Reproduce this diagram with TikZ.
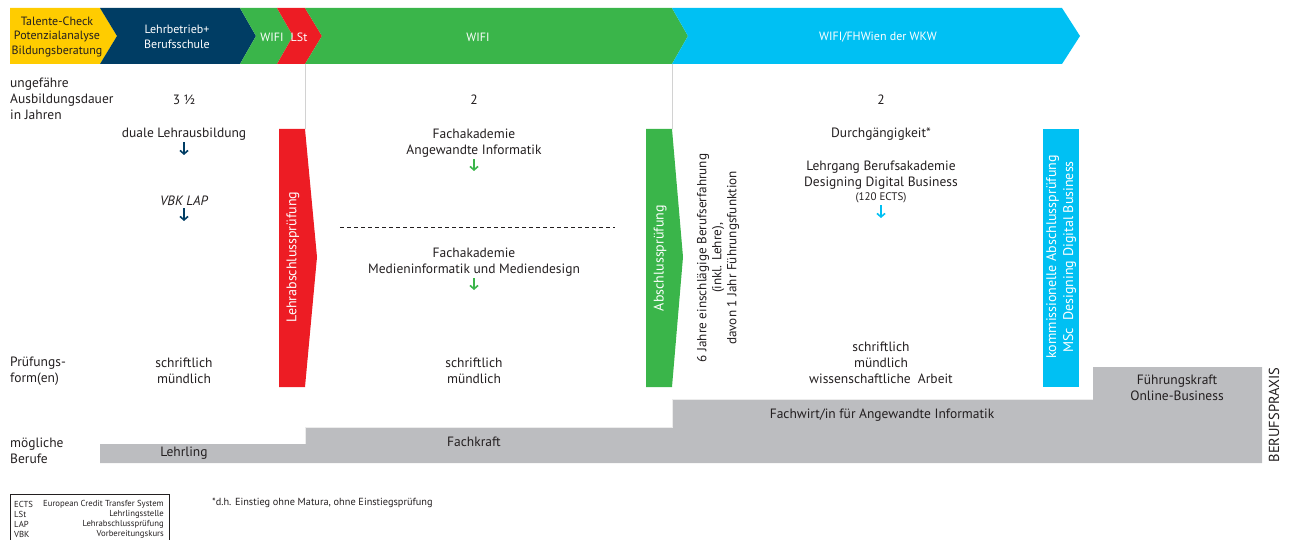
\documentclass[tikz,border=0pt]{standalone}
\usepackage{fontspec}
\setmainfont{PT Sans}
\usetikzlibrary{arrows.meta}
\definecolor{talgelb}{RGB}{255,204,0}
\definecolor{dunkelblau}{RGB}{0,61,100}
\definecolor{wifigruen}{RGB}{58,181,74}
\definecolor{lstrot}{RGB}{237,28,36}
\definecolor{fhcyan}{RGB}{0,192,243}
\definecolor{bandgrau}{RGB}{188,189,192}
\definecolor{schrift}{RGB}{35,31,32}
\tikzset{
  txt/.style={text=schrift, font=\fontsize{13.5}{16}\selectfont, align=center, inner sep=1pt},
  lefttxt/.style={txt, align=left, anchor=west},
  bannertxt/.style={text=white, font=\fontsize{12}{14.5}\selectfont, align=center},
  bartxt/.style={text=white, font=\fontsize{14}{17}\selectfont, align=center, rotate=90},
  downarr/.style={-{Straight Barb[length=3.5pt,width=8pt]}, line width=1.6pt},
  legtxt/.style={text=schrift, font=\fontsize{8.7}{10}\selectfont, inner sep=0pt},
}

\begin{document}
\begin{tikzpicture}[x=1pt,y=-1pt]
		%%%%% START %%%%%
		\useasboundingbox (0,0) rectangle (1293,540);
		
		% banner
		\draw[fill=talgelb, draw=none] (10,8) -- (100,8) -- (117,36) -- (100,64) -- (10,64) -- cycle;
		\draw[fill=dunkelblau, draw=none] (100,8) -- (240,8) -- (256,36) -- (240,64) -- (100,64) -- (117,36) -- cycle;
		\draw[fill=wifigruen, draw=none] (240,8) -- (277,8) -- (293,36) -- (277,64) -- (240,64) -- (256,36) -- cycle;
		\draw[fill=lstrot, draw=none] (277,8) -- (305,8) -- (322,36) -- (305,64) -- (277,64) -- (293,36) -- cycle;
		\draw[fill=wifigruen, draw=none] (305,8) -- (672,8) -- (688,36) -- (672,64) -- (305,64) -- (322,36) -- cycle;
		\draw[fill=fhcyan, draw=none] (672,8) -- (1062,8) -- (1080,36) -- (1062,64) -- (672,64) -- (688,36) -- cycle;
		
		\node[bannertxt, text=schrift] (talente) at (57,37) {Talente-Check\\Potenzialanalyse\\Bildungsberatung};
		\node[bannertxt] (lehrbetrieb) at (177,37) {Lehrbetrieb+\\Berufsschule};
		\node[bannertxt] (wifia) at (272,37) {WIFI};
		\node[bannertxt] (lst) at (299,37) {LSt};
		\node[bannertxt] (wifib) at (478,37) {WIFI};
		\node[bannertxt] (fhwien) at (878,37) {WIFI/FHWien der WKW};
		
		\draw[gray!35, line width=0.5pt] (305,64) -- (305,129);
		\draw[gray!35, line width=0.5pt] (672,64) -- (672,129);
		
		% row labels
		\node[lefttxt] (dauer) at (9,99) {ungefähre\\Ausbildungsdauer\\in Jahren};
		\node[lefttxt] (pruefform) at (9,371) {Prüfungs-\\form(en)};
		\node[lefttxt] (berufe) at (9,451) {mögliche\\Berufe};
		
		\node[txt] (dauerA) at (184,100) {3 ½};
		\node[txt] (dauerB) at (474,100) {2};
		\node[txt] (dauerC) at (881,100) {2};
		
		% Lehre
		\node[txt] (dual) at (184,134) {duale Lehrausbildung};
		\coordinate (dualend) at (184,155);
		\draw[downarr, dunkelblau] ([yshift=-1pt]dual.south) -- (dualend);
		\node[txt, font=\fontsize{13.5}{16}\selectfont\itshape] (vbk) at (184,201) {VBK LAP};
		\coordinate (vbkend) at (184,221);
		\draw[downarr, dunkelblau] ([yshift=-1pt]vbk.south) -- (vbkend);
		\node[txt] (pruefA) at (184,371) {schriftlich\\mündlich};
		
		\draw[fill=lstrot, draw=none] (279,129) -- (305,129) -- (317,257) -- (305,387) -- (279,387) -- cycle;
		\node[bartxt] (lap) at (293,257) {Lehrabschlussprüfung};
		
		% Fachakademie
		\node[txt] (fakinf) at (474,143) {Fachakademie\\Angewandte Informatik};
		\coordinate (fakinfend) at (474,171);
		\draw[downarr, wifigruen] ([yshift=-1pt]fakinf.south) -- (fakinfend);
		\draw[schrift, line width=0.8pt, dash pattern=on 4pt off 3pt] (340,227) -- (615,227);
		\node[txt] (fakmed) at (474,262) {Fachakademie\\Medieninformatik und Mediendesign};
		\coordinate (fakmedend) at (474,290);
		\draw[downarr, wifigruen] ([yshift=-1pt]fakmed.south) -- (fakmedend);
		\node[txt] (pruefB) at (474,371) {schriftlich\\mündlich};
		
		\draw[fill=wifigruen, draw=none] (646,129) -- (672,129) -- (683,257) -- (672,387) -- (646,387) -- cycle;
		\node[bartxt] (absch) at (660,258) {Abschlussprüfung};
		\node[txt, rotate=90, font=\fontsize{13.2}{15}\selectfont] (erfahrung) at (718,258) {6 Jahre einschlägige Berufserfahrung\\(inkl. Lehre),\\davon 1 Jahr Führungsfunktion};
		
		% Berufsakademie
		\node[txt] (durch) at (881,134) {Durchgängigkeit*};
		\node[txt] (lehrgang) at (881,175) {Lehrgang Berufsakademie\\Designing Digital Business};
		\node[txt, font=\fontsize{11}{12}\selectfont] (ects) at (881,198) {(120 ECTS)};
		\coordinate (ectsend) at (881,218);
		\draw[downarr, fhcyan] ([yshift=-1pt]ects.south) -- (ectsend);
		\node[txt] (pruefC) at (881,363) {schriftlich\\mündlich\\wissenschaftliche\ \ Arbeit};
		
		\draw[fill=fhcyan, draw=none] (1043,129) rectangle (1079,387);
		\node[bartxt] (kommiss) at (1061,257) {kommissionelle Abschlussprüfung\\MSc\ \ Designing Digital Business};
		
		% Berufe
		\draw[fill=bandgrau, draw=none] (100,444) -- (305,444) -- (305,427) -- (672,427) -- (672,399) -- (1093,399) -- (1093,367) -- (1262,367) -- (1262,463) -- (100,463) -- cycle;
		\draw[gray!15, line width=0.8pt] (305,444) -- (305,427) -- (672,427) -- (672,399) -- (1093,399);
		\node[txt] (lehrling) at (184,453) {Lehrling};
		\node[txt] (fachkraft) at (474,442) {Fachkraft};
		\node[txt] (fachwirt) at (882,415) {Fachwirt/in für Angewandte Informatik};
		\node[txt] (fuehrung) at (1177,388) {Führungskraft\\Online-Business};
		\node[txt, rotate=90, font=\fontsize{14.5}{16}\selectfont] (praxis) at (1274,415) {BERUFSPRAXIS};
		
		% Legende
		\draw[schrift, line width=0.8pt] (10,545) -- (10,494) -- (169,494) -- (169,545);
		\foreach \kurz/\lang [count=\i] in {ECTS/European Credit Transfer System, LSt/Lehrlingsstelle, LAP/Lehrabschlussprüfung, VBK/Vorbereitungskurs}{
			\node[legtxt, anchor=west] (legk\i) at (14,{494+10*\i}) {\kurz};
			\node[legtxt, anchor=east] (legl\i) at (164,{494+10*\i}) {\lang};
		}
		\node[legtxt, anchor=west, font=\fontsize{10.3}{12}\selectfont] (fussnote) at (212,503) {*d.h. Einstieg ohne Matura, ohne Einstiegsprüfung};
		%%%%% END %%%%%
\end{tikzpicture}
\end{document}
